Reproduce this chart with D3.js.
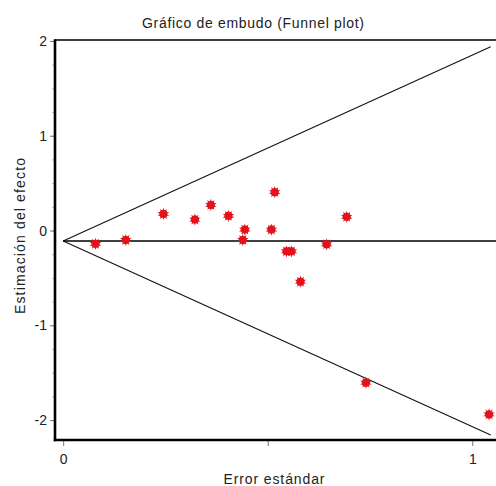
<!DOCTYPE html>
<html>
<head>
<meta charset="utf-8">
<script src="https://cdn.jsdelivr.net/npm/d3@7"></script>
<style>
  html, body { margin: 0; padding: 0; background: #fff; }
  svg { display: block; font-family: "Liberation Sans", Arial, sans-serif; }
</style>
</head>
<body>
<svg id="chart" width="496" height="486"></svg>
<script>
// Data
const standardErrors = [0.079, 0.153, 0.245, 0.322, 0.361, 0.404, 0.444, 0.439, 0.517, 0.509, 0.546, 0.558, 0.580, 0.644, 0.693, 0.740, 1.041];
const effectEstimates = [-0.14, -0.10, 0.175, 0.115, 0.27, 0.155, 0.01, -0.10, 0.405, 0.01, -0.22, -0.22, -0.54, -0.145, 0.145, -1.605, -1.94];
const pooledEstimate = [-0.11];
const funnelMaxSE = [1.045];
const zMultiplier = [1.96];
const xTickValues = [0, 0.5, 1];
const xTickLabels = ["0", "", "1"];
const yTickValues = [-2, -1, 0, 1, 2];
const yTickLabels = ["-2", "-1", "0", "1", "2"];
const yMinorTicks = d3.range(-2, 2.01, 0.25);
const titleText = "Gráfico de embudo (Funnel plot)";
const xAxisTitle = "Error estándar";
const yAxisTitle = "Estimación del efecto";

(function () {
const svg = d3.select("#chart");
const pL = 55, pR = 496, pT = 40, pB = 440;

const x = d3.scaleLinear().domain([-0.02, 1.058]).range([pL, pR]);
const y = d3.scaleLinear().domain([-2.21, 2.01]).range([pB, pT]);

// Title
svg.append("text").attr("x", 253).attr("y", 28).attr("text-anchor", "middle")
  .attr("font-size", 14).attr("fill", "#222")
  .attr("textLength", 222).attr("lengthAdjust", "spacing").text(titleText);

// Axes ticks
const xAxis = d3.axisBottom(x).tickValues(xTickValues).tickSize(6).tickPadding(8)
  .tickFormat((d, i) => xTickLabels[i]);
const gx = svg.append("g").attr("transform", `translate(0,${pB})`).call(xAxis);
gx.select(".domain").remove();
gx.selectAll(".tick line").attr("stroke", "#777");
gx.selectAll("text").attr("font-size", 14).attr("fill", "#222").attr("font-family", "Liberation Sans, Arial, sans-serif");

const yMinor = d3.axisLeft(y).tickValues(yMinorTicks).tickSize(3).tickFormat("");
const gyMinor = svg.append("g").attr("transform", `translate(${pL},0)`).call(yMinor);
gyMinor.select(".domain").remove();
gyMinor.selectAll(".tick line").attr("stroke", "#bbb");

const yAxis = d3.axisLeft(y).tickValues(yTickValues).tickSize(5).tickPadding(3)
  .tickFormat((d, i) => yTickLabels[i]);
const gy = svg.append("g").attr("transform", `translate(${pL},0)`).call(yAxis);
gy.select(".domain").remove();
gy.selectAll(".tick line").attr("stroke", "#777");
gy.selectAll("text").attr("font-size", 14).attr("fill", "#222").attr("font-family", "Liberation Sans, Arial, sans-serif");

// Frame
svg.append("line").attr("x1", pL).attr("x2", pR).attr("y1", pT).attr("y2", pT)
  .attr("stroke", "#000").attr("stroke-width", 1.6);
svg.append("line").attr("x1", pL).attr("x2", pL).attr("y1", pT - 0.8).attr("y2", pB + 1.2)
  .attr("stroke", "#000").attr("stroke-width", 2.6);
svg.append("line").attr("x1", pL - 1.2).attr("x2", pR).attr("y1", pB).attr("y2", pB)
  .attr("stroke", "#000").attr("stroke-width", 2.6);

// Funnel lines
const p = pooledEstimate[0], m = funnelMaxSE[0], z = zMultiplier[0];
const funnel = [
  [[0, p], [m, p + z * m]],
  [[0, p], [m, p - z * m]]
];
const line = d3.line().x(d => x(d[0])).y(d => y(d[1]));
svg.selectAll(".funnel").data(funnel).join("path").attr("class", "funnel")
  .attr("d", line).attr("fill", "none").attr("stroke", "#111").attr("stroke-width", 1.1);
svg.append("path").attr("d", line([[0, p], [1.058, p]]))
  .attr("fill", "none").attr("stroke", "#000").attr("stroke-width", 1.5);

// Points (red round spiky markers)
const pts = standardErrors.map((s, i) => [s, effectEstimates[i]]);
const star = d3.symbol().type(d3.symbolStar).size(42);
const g = svg.append("g");
pts.forEach(d => {
  const cx = x(d[0]), cy = y(d[1]);
  g.append("circle").attr("cx", cx).attr("cy", cy).attr("r", 4).attr("fill", "#e3121b");
  g.append("path").attr("d", star()).attr("transform", `translate(${cx},${cy})`).attr("fill", "#e3121b");
  g.append("path").attr("d", star()).attr("transform", `translate(${cx},${cy}) rotate(36)`).attr("fill", "#e3121b");
});

// Axis titles
svg.append("text").attr("x", 274).attr("y", 484).attr("text-anchor", "middle")
  .attr("font-size", 14).attr("fill", "#222")
  .attr("textLength", 101).attr("lengthAdjust", "spacing").text(xAxisTitle);
svg.append("text").attr("transform", "translate(25,236) rotate(-90)").attr("text-anchor", "middle")
  .attr("font-size", 14).attr("fill", "#222")
  .attr("textLength", 156).attr("lengthAdjust", "spacing").text(yAxisTitle);
})();
</script>
</body>
</html>
